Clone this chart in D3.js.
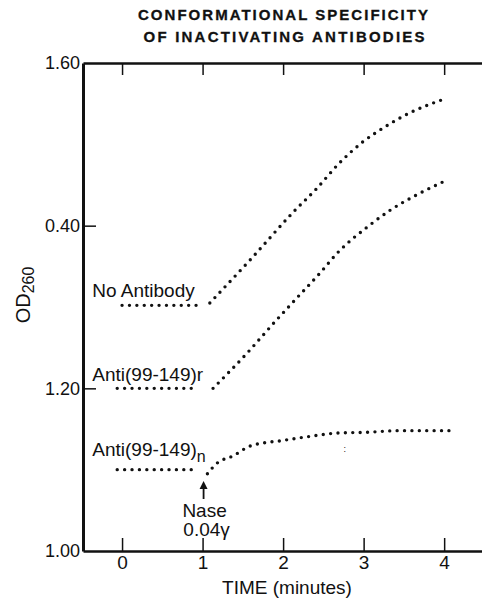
<!DOCTYPE html>
<html>
<head>
<meta charset="utf-8">
<script src="https://cdn.jsdelivr.net/npm/d3@7"></script>
<style>
  body { margin: 0; background: #fff; }
  svg { display: block; }
  text { font-family: "Liberation Sans", Arial, sans-serif; fill: #111; }
  .axis path, .axis line { stroke: #111; }
</style>
</head>
<body>
<div id="chart"></div>
<script>
// values
var timeTicks = [0, 1, 2, 3, 4];
var timeTickLabels = ["0", "1", "2", "3", "4"];
var odTicks = [1.00, 1.20, 1.40, 1.60];
var odTickLabels = ["1.00", "1.20", "0.40", "1.60"];

var seriesNames = ["No Antibody", "Anti(99-149)r", "Anti(99-149)"];
var seriesSub = ["", "", "n"];

// flat part before Nase is added
var baseStart = [0.00, -0.06, -0.06];
var baseEnd = [0.96, 0.93, 0.93];
var baseOD = [1.302, 1.200, 1.100];

// rising part after Nase
var noAbTime = [1.09, 1.61, 2.12, 2.42, 2.68, 2.99, 3.24, 3.58, 4.04];
var noAbOD = [1.305, 1.360, 1.416, 1.446, 1.475, 1.503, 1.520, 1.539, 1.557];
var antiRTime = [1.13, 1.55, 1.90, 2.17, 2.46, 2.67, 3.08, 3.33, 3.66, 3.99];
var antiROD = [1.200, 1.243, 1.282, 1.311, 1.342, 1.366, 1.401, 1.419, 1.438, 1.454];
var antiNTime = [1.06, 1.18, 1.38, 1.59, 2.00, 2.34, 2.67, 3.04, 3.45, 4.07];
var antiNOD = [1.095, 1.108, 1.117, 1.129, 1.136, 1.141, 1.145, 1.146, 1.148, 1.148];

var naseTime = 1.0;

var width = 482, height = 600;
var margin = { top: 63, right: 0, bottom: 49, left: 83 };

var svg = d3.select('#chart').append('svg')
    .attr('width', width)
    .attr('height', height);

var xScale = d3.scaleLinear()
    .domain([-0.485, 4.47])
    .range([margin.left, width - margin.right]);

var yScale = d3.scaleLinear()
    .domain([1.0, 1.6])
    .range([height - margin.bottom, margin.top]);

// title
svg.append('text')
    .attr('x', 283).attr('y', 20)
    .attr('text-anchor', 'middle')
    .attr('textLength', 290).attr('lengthAdjust', 'spacing')
    .style('font-size', '15px').style('font-weight', 'bold')
    .style('stroke', '#111').style('stroke-width', 0.3)
    .text('CONFORMATIONAL  SPECIFICITY');
svg.append('text')
    .attr('x', 284).attr('y', 42)
    .attr('text-anchor', 'middle')
    .attr('textLength', 281).attr('lengthAdjust', 'spacing')
    .style('font-size', '15px').style('font-weight', 'bold')
    .style('stroke', '#111').style('stroke-width', 0.3)
    .text('OF  INACTIVATING  ANTIBODIES');

// axes
var xAxis = d3.axisBottom(xScale)
    .tickValues(timeTicks)
    .tickFormat(function (d, i) { return timeTickLabels[i]; })
    .tickSizeInner(-13)
    .tickSizeOuter(0)
    .tickPadding(5);

var xTop = d3.axisTop(xScale)
    .tickValues(timeTicks)
    .tickFormat('')
    .tickSizeInner(-12)
    .tickSizeOuter(0);

var yAxis = d3.axisLeft(yScale)
    .tickValues(odTicks)
    .tickFormat(function (d, i) { return odTickLabels[i]; })
    .tickSizeInner(-13)
    .tickSizeOuter(0)
    .tickPadding(3);

var gx = svg.append('g')
    .attr('class', 'x axis')
    .attr('transform', `translate(0, ${yScale(1.0)})`)
    .call(xAxis);
gx.select('.domain').attr('stroke-width', 2.5);
gx.selectAll('.tick line').attr('stroke-width', 1.5);
gx.selectAll('.tick text').style('font-size', '19px').attr('fill', '#111');

var gt = svg.append('g')
    .attr('class', 'x axis top')
    .attr('transform', `translate(0, ${yScale(1.6)})`)
    .call(xTop);
gt.select('.domain').attr('stroke-width', 2.5);
gt.selectAll('.tick line').attr('stroke-width', 1.5);

var gy = svg.append('g')
    .attr('class', 'y axis')
    .attr('transform', `translate(${xScale(-0.485)}, 0)`)
    .call(yAxis);
gy.select('.domain').attr('stroke-width', 3);
gy.selectAll('.tick line').attr('stroke-width', 1.5)
    .style('opacity', function (d) { return (d === 1.0 || d === 1.6) ? 0 : 1; });
gy.selectAll('.tick text').style('font-size', '18px').attr('fill', '#111');

// axis titles
svg.append('text')
    .attr('x', 287).attr('y', 594)
    .attr('text-anchor', 'middle')
    .style('font-size', '19px')
    .text('TIME (minutes)');

var yt = svg.append('text')
    .attr('transform', 'translate(30, 295) rotate(-90)')
    .attr('text-anchor', 'middle')
    .style('font-size', '20px');
yt.append('tspan').text('OD');
yt.append('tspan').attr('dy', 4).style('font-size', '16px').text('260');

// dotted curves
var line = d3.line()
    .x(d => xScale(d[0]))
    .y(d => yScale(d[1]))
    .curve(d3.curveMonotoneX);

var rises = [
    d3.zip(noAbTime, noAbOD),
    d3.zip(antiRTime, antiROD),
    d3.zip(antiNTime, antiNOD)
];

function dotted(pts) {
    svg.append('path')
        .datum(pts)
        .attr('d', line)
        .attr('fill', 'none')
        .attr('stroke', '#111')
        .attr('stroke-width', 3.4)
        .attr('stroke-linecap', 'round')
        .attr('stroke-dasharray', '0 7.4');
}

for (var i = 0; i < seriesNames.length; i++) {
    dotted([[baseStart[i], baseOD[i]], [baseEnd[i], baseOD[i]]]);
    dotted(rises[i]);
}

// series labels
var labelDy = [-8, -7, -14];
seriesNames.forEach(function (name, i) {
    var t = svg.append('text')
        .attr('x', xScale(-0.37))
        .attr('y', yScale(baseOD[i]) + labelDy[i])
        .style('font-size', '19px')
        .text(name);
    if (seriesSub[i]) {
        t.append('tspan').attr('dy', 6).style('font-size', '16px').text(seriesSub[i]);
    }
});

// Nase arrow
var ax = xScale(naseTime) + 1;
svg.append('line')
    .attr('x1', ax).attr('x2', ax)
    .attr('y1', 499).attr('y2', 487)
    .attr('stroke', '#111').attr('stroke-width', 1.8);
svg.append('path')
    .attr('d', `M${ax - 4},489 L${ax},481 L${ax + 4},489 Z`)
    .attr('fill', '#111');
svg.append('text')
    .attr('x', ax + 1).attr('y', 517)
    .attr('text-anchor', 'middle')
    .style('font-size', '19px')
    .text('Nase');
svg.append('text')
    .attr('x', ax + 3).attr('y', 536)
    .attr('text-anchor', 'middle')
    .style('font-size', '19px')
    .text('0.04γ');

// stray mark in the original
svg.append('text')
    .attr('x', xScale(2.75)).attr('y', 452)
    .style('font-size', '9px')
    .text(':');
</script>
</body>
</html>
